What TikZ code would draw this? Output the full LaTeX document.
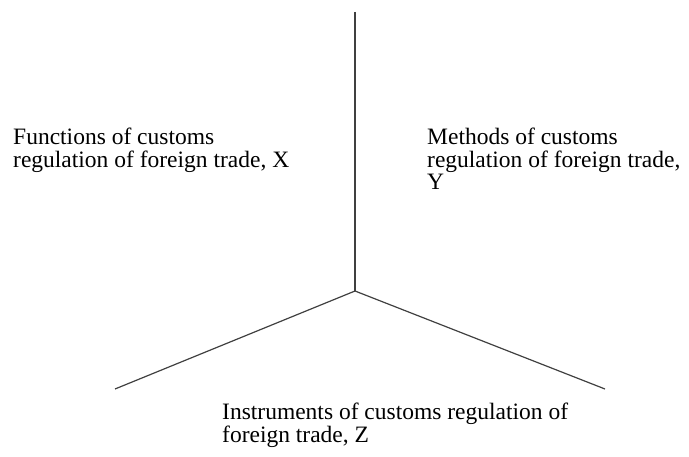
\documentclass[tikz,border=0pt]{standalone}
\usepackage{fontspec}
\setmainfont{Liberation Serif}

\begin{document}
\begin{tikzpicture}[x=1pt,y=-1pt,
  axis/.style={line width=1.2pt,color=black!75},
  label/.style={anchor=north west,align=left,inner sep=0pt,
    font=\fontsize{23.5}{22.5}\selectfont}]
\useasboundingbox (0,0) rectangle (689,457);
\coordinate (top) at (355,12);
\coordinate (mid) at (355,291);
\coordinate (left) at (115,389);
\coordinate (right) at (605,389);
\draw [axis] (top) -- (mid);
\draw [axis] (mid) -- (left);
\draw [axis] (mid) -- (right);
\node [label] (funcs) at (13,128) {Functions of customs\\regulation of foreign trade, X};
\node [label] (meths) at (427,128) {Methods of customs\\regulation of foreign trade,\\Y};
\node [label] (instr) at (222,403) {Instruments of customs regulation of\\foreign trade, Z};
\end{tikzpicture}
\end{document}
